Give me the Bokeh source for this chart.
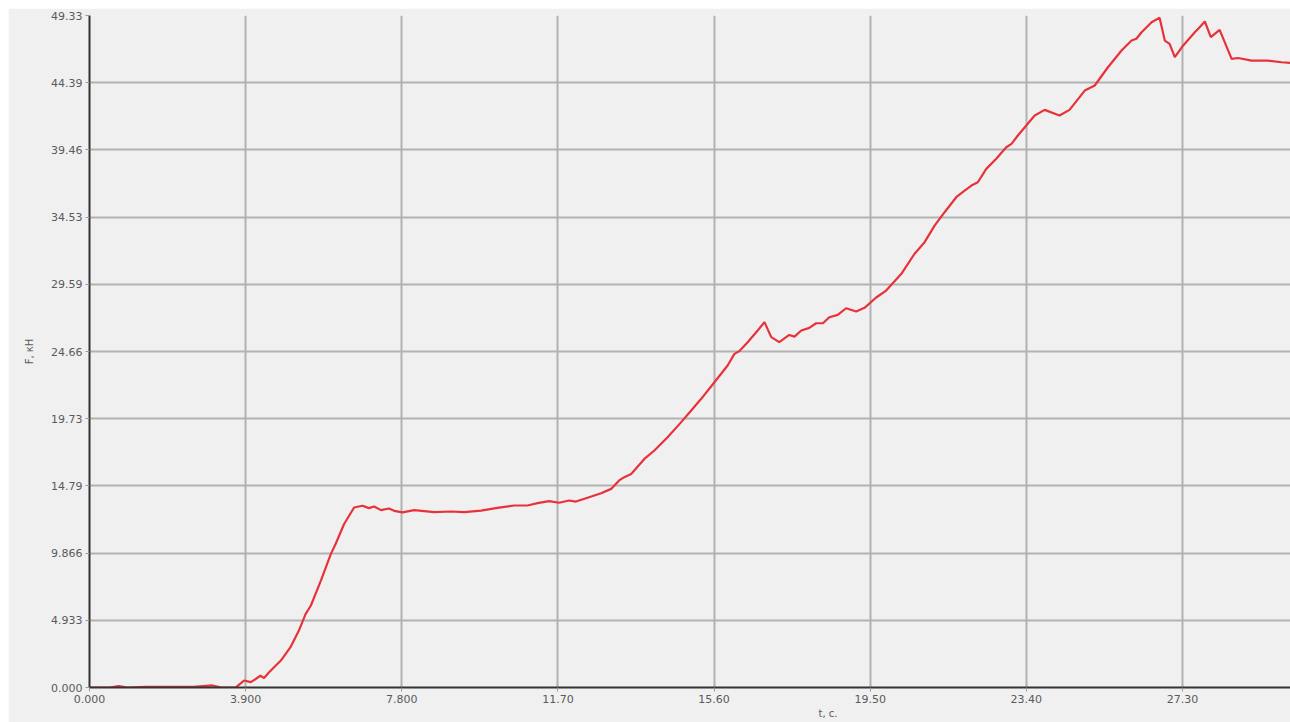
import math
from bokeh.plotting import figure
from bokeh.models import FixedTicker, Title, Range1d
from bokeh.embed import file_html
from bokeh.resources import INLINE

# time, s
t_values = [0.0, 0.5, 0.73, 0.95, 1.4, 2.0, 2.6, 3.07, 3.3, 3.65, 3.86, 4.03, 4.27, 4.36, 4.48,
            4.78, 5.02, 5.23, 5.4, 5.53, 5.78, 6.03, 6.15, 6.36, 6.61, 6.82, 6.98, 7.11, 7.28,
            7.48, 7.61, 7.82, 8.11, 8.61, 9.03, 9.36, 9.78, 10.19, 10.61, 10.94, 11.19, 11.48,
            11.73, 11.98, 12.15, 12.44, 12.78, 13.03, 13.23, 13.36, 13.53, 13.86, 14.11, 14.44,
            14.78, 15.03, 15.28, 15.61, 15.94, 16.11, 16.23, 16.44, 16.69, 16.86, 17.03, 17.23,
            17.48, 17.61, 17.78, 17.98, 18.15, 18.32, 18.48, 18.69, 18.9, 19.15, 19.36, 19.65,
            19.9, 20.28, 20.61, 20.86, 21.11, 21.36, 21.65, 21.86, 22.03, 22.19, 22.4, 22.65,
            22.9, 23.03, 23.19, 23.4, 23.61, 23.86, 24.23, 24.48, 24.86, 25.11, 25.44, 25.78,
            26.03, 26.15, 26.28, 26.53, 26.73, 26.86, 26.98, 27.11, 27.32, 27.61, 27.73, 27.86,
            28.01, 28.23, 28.53, 28.69, 29.03, 29.44, 29.78, 30.03]
# force, kN
f_values = [0.0, 0.0, 0.1, 0.0, 0.05, 0.05, 0.05, 0.15, 0.0, 0.0, 0.51, 0.39, 0.86, 0.7, 1.1,
            1.98, 2.96, 4.18, 5.41, 6.02, 7.85, 9.81, 10.55, 12.0, 13.21, 13.34, 13.17, 13.29, 13.02,
            13.14, 12.97, 12.85, 13.02, 12.87, 12.92, 12.87, 12.99, 13.19, 13.36, 13.36, 13.53, 13.68,
            13.56, 13.73, 13.65, 13.93, 14.26, 14.58, 15.2, 15.44, 15.68, 16.78, 17.4, 18.37,
            19.48, 20.33, 21.19, 22.41, 23.64, 24.49, 24.69, 25.35, 26.21, 26.82, 25.72, 25.35,
            25.88, 25.76, 26.21, 26.4, 26.74, 26.74, 27.18, 27.35, 27.84, 27.6, 27.87, 28.63,
            29.14, 30.37, 31.84, 32.69, 33.91, 34.89, 35.99, 36.48, 36.85, 37.09, 38.07, 38.81,
            39.66, 39.91, 40.52, 41.25, 41.99, 42.4, 41.99, 42.4, 43.82, 44.19, 45.53, 46.76,
            47.49, 47.62, 48.1, 48.84, 49.16, 47.49, 47.25, 46.27, 47.13, 48.1, 48.47, 48.89,
            47.74, 48.28, 46.14, 46.21, 46.02, 46.02, 45.9, 45.85]

x_ticks = [0.0, 3.9, 7.8, 11.7, 15.6, 19.5, 23.4, 27.3]
x_tick_labels = ["0.000", "3.900", "7.800", "11.70", "15.60", "19.50", "23.40", "27.30"]
y_ticks = [0.0, 4.933, 9.866, 14.799, 19.732, 24.665, 29.598, 34.531, 39.464, 44.397, 49.33]
y_tick_labels = ["0.000", "4.933", "9.866", "14.79", "19.73", "24.66", "29.59", "34.53",
                 "39.46", "44.39", "49.33"]

x_title = "t, c."
y_title = "F, кН"

BG = "#f0f0f0"
FONT = "DejaVu Sans"

p = figure(width=1282, height=714, output_backend="svg", toolbar_location=None,
           x_range=Range1d(0, 30.0), y_range=Range1d(0, 49.33),
           min_border_left=81, min_border_right=0, min_border_top=7, min_border_bottom=35,
           background_fill_color=BG, border_fill_color=BG, outline_line_color=None)
p.margin = (8, 0, 0, 8)

p.line(t_values, f_values, line_color="#e8323a", line_width=2.2)

p.xaxis.ticker = FixedTicker(ticks=x_ticks)
p.yaxis.ticker = FixedTicker(ticks=y_ticks)
p.xaxis.major_label_overrides = {k: v for k, v in zip(x_ticks, x_tick_labels)}
p.yaxis.major_label_overrides = {k: v for k, v in zip(y_ticks, y_tick_labels)}

for ax in (p.xaxis, p.yaxis):
    ax.axis_line_color = "#333333"
    ax.axis_line_width = 2
    ax.major_tick_line_color = "#9a9a9a"
    ax.major_tick_out = 4
    ax.major_tick_in = 0
    ax.minor_tick_line_color = None
    ax.major_label_text_font = FONT
    ax.major_label_text_font_size = "11px"
    ax.major_label_text_color = "#5a5a5a"
    ax.major_label_standoff = 3

p.yaxis.axis_label = y_title
p.yaxis.axis_label_standoff = 13
p.yaxis.axis_label_text_font = FONT
p.yaxis.axis_label_text_font_size = "10px"
p.yaxis.axis_label_text_font_style = "normal"
p.yaxis.axis_label_text_color = "#5a5a5a"

p.add_layout(Title(text=x_title, align="left", offset=729, standoff=0, text_font=FONT,
                   text_font_size="10px", text_font_style="normal", text_color="#5a5a5a"),
             "below")

p.xgrid.ticker = FixedTicker(ticks=x_ticks)
p.ygrid.ticker = FixedTicker(ticks=y_ticks)
p.grid.grid_line_color = "#b2b2b2"
p.grid.grid_line_width = 2

open("out.html", "w").write(file_html(p, INLINE))
